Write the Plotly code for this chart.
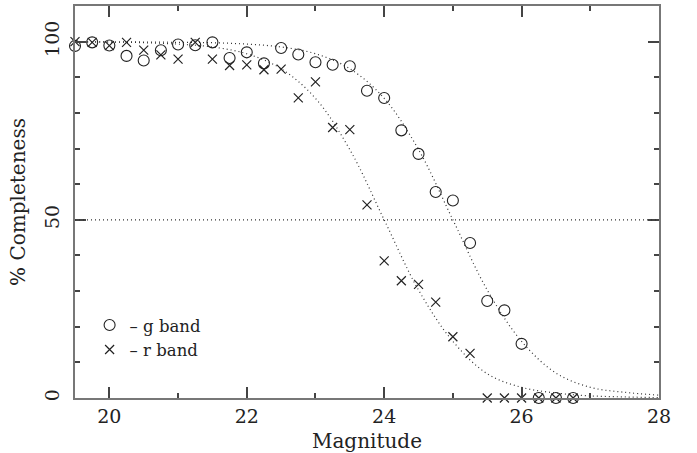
import plotly.graph_objects as go

# ---- data ----
magnitude = [19.5, 19.75, 20.0, 20.25, 20.5, 20.75, 21.0, 21.25, 21.5, 21.75,
             22.0, 22.25, 22.5, 22.75, 23.0, 23.25, 23.5, 23.75, 24.0, 24.25,
             24.5, 24.75, 25.0, 25.25, 25.5, 25.75, 26.0, 26.25, 26.5, 26.75]
g_band = [98.8, 99.8, 98.9, 96.0, 94.7, 97.6, 99.2, 99.0, 99.8, 95.4,
          97.0, 93.9, 98.2, 96.4, 94.2, 93.5, 93.1, 86.2, 84.2, 75.1,
          68.5, 57.8, 55.4, 43.5, 27.2, 24.6, 15.2, 0.0, 0.0, 0.0]
r_band = [100.0, 99.8, 98.9, 99.8, 97.6, 96.3, 95.1, 99.8, 95.1, 93.3,
          93.5, 92.1, 92.3, 84.2, 88.7, 75.9, 75.3, 54.2, 38.5, 32.9,
          31.9, 26.9, 17.2, 12.5, 0.0, 0.0, 0.0, 0.0, 0.0, 0.0]

# fitted completeness curves (dotted), read at 0.5 mag steps
curve_mag = [19.5, 20.0, 20.5, 21.0, 21.5, 22.0, 22.5, 23.0, 23.5, 24.0,
             24.5, 25.0, 25.5, 26.0, 26.5, 27.0, 27.5, 28.0]
g_curve = [99.9, 99.9, 99.9, 99.8, 99.7, 99.3, 98.5, 96.6, 92.4, 84.1,
           69.7, 50.0, 30.3, 15.9, 7.0, 3.0, 1.6, 0.8]
r_curve = [99.9, 99.9, 99.7, 99.3, 98.5, 96.6, 92.4, 84.1, 69.7, 50.0,
           30.3, 15.9, 6.8, 3.0, 1.4, 0.6, 0.3, 0.1]

x_ticks = [20, 22, 24, 26, 28]
y_ticks = [0, 50, 100]
half_level = 50

FONT = "DejaVu Serif"
INK = "#222222"
AXIS = "#777777"

fig = go.Figure()

fig.add_trace(go.Scatter(x=curve_mag, y=g_curve, mode="lines", showlegend=False,
                         line=dict(color="#333333", width=1.2, dash="1px,3px",
                                   shape="spline", smoothing=1.0),
                         hoverinfo="skip"))
fig.add_trace(go.Scatter(x=curve_mag, y=r_curve, mode="lines", showlegend=False,
                         line=dict(color="#333333", width=1.2, dash="1px,3px",
                                   shape="spline", smoothing=1.0),
                         hoverinfo="skip"))

fig.add_hline(y=half_level, line=dict(color="#333333", width=1.2, dash="1px,3px"))

fig.add_trace(go.Scatter(x=magnitude, y=g_band, mode="markers", name="– g band",
                         cliponaxis=False,
                         marker=dict(symbol="circle-open", size=11, color=INK,
                                     line=dict(width=1.1, color=INK))))
fig.add_trace(go.Scatter(x=magnitude, y=r_band, mode="markers", name="– r band",
                         cliponaxis=False,
                         marker=dict(symbol="x-thin-open", size=9, color=INK,
                                     line=dict(width=1.2, color=INK))))

fig.update_layout(
    width=697, height=453,
    margin=dict(l=75, r=38, t=6, b=55),
    paper_bgcolor="white", plot_bgcolor="white",
    font=dict(family=FONT, size=19, color=INK),
    legend=dict(x=0.025, y=0.23, xanchor="left", yanchor="top",
                bgcolor="rgba(0,0,0,0)", font=dict(family=FONT, size=16.5),
                itemwidth=30, tracegroupgap=0),
)

fig.update_xaxes(
    range=[19.5, 28], tickvals=x_ticks, ticktext=[str(t) for t in x_ticks],
    showgrid=False, zeroline=False, showline=True, linecolor=AXIS, linewidth=2,
    mirror="allticks", ticks="inside", ticklen=11, tickwidth=1.5, tickcolor="#444444",
    minor=dict(dtick=1, ticks="inside", ticklen=5, tickwidth=1.5, tickcolor="#444444"),
    title=dict(text="Magnitude", font=dict(family=FONT, size=20), standoff=8),
    tickfont=dict(family=FONT, size=19), automargin=False,
)
fig.update_yaxes(
    range=[0, 110], tickvals=y_ticks, ticktext=[str(t) for t in y_ticks],
    showgrid=False, zeroline=False, showline=True, linecolor=AXIS, linewidth=2,
    mirror="allticks", ticks="inside", ticklen=11, tickwidth=1.5, tickcolor="#444444",
    minor=dict(dtick=10, ticks="inside", ticklen=5, tickwidth=1.5, tickcolor="#444444"),
    tickangle=-90, ticklabelstandoff=6,
    title=dict(text="% Completeness", font=dict(family=FONT, size=20), standoff=10),
    tickfont=dict(family=FONT, size=19), automargin=False,
)

fig.write_html("out.html")
